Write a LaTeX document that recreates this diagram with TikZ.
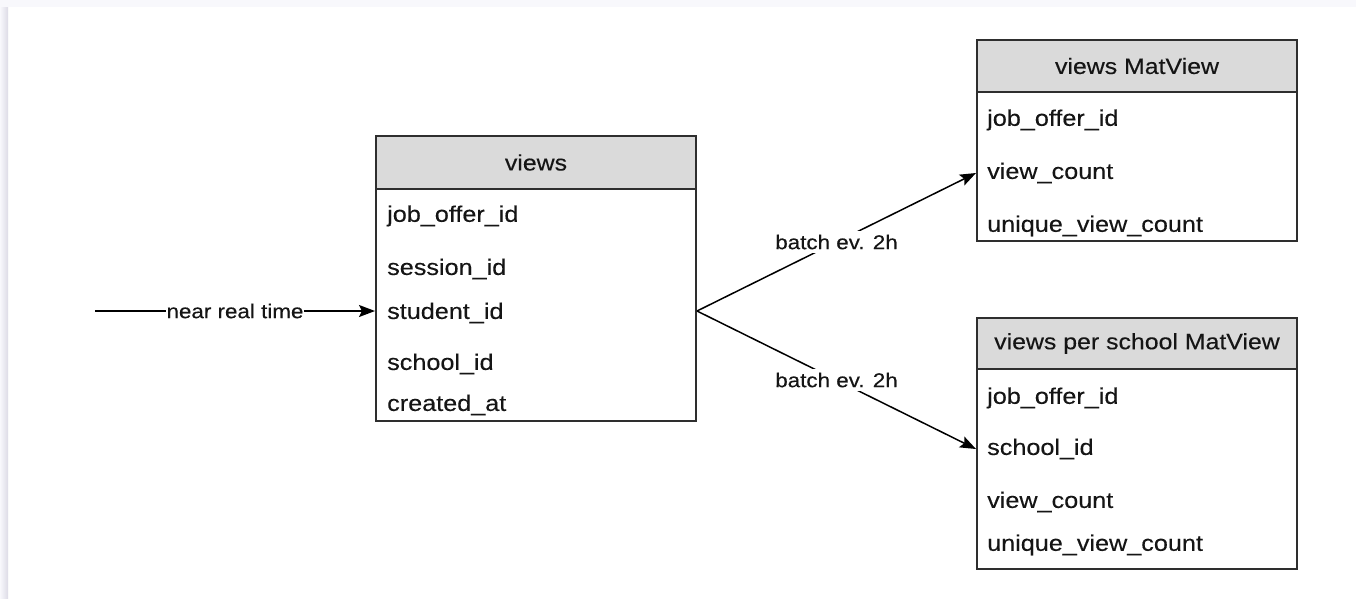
\documentclass[tikz,border=0pt]{standalone}
\usepackage{fontspec}
\setmainfont[FakeStretch=1.12,FakeBold=0.25]{Liberation Sans}
\usetikzlibrary{arrows.meta}
\definecolor{edge}{HTML}{2E2E2E}
\definecolor{headfill}{HTML}{DADADA}
\definecolor{ink}{HTML}{151515}
\definecolor{pagerim}{HTML}{F8F8FC}
\definecolor{rimshade}{HTML}{DDDBE6}

\begin{document}
\begin{tikzpicture}[x=1pt,y=-1pt,
  tablebox/.style={draw=edge, line width=2pt, fill=white, inner sep=0pt, anchor=north west},
  headbox/.style={draw=edge, line width=2pt, fill=headfill, inner sep=0pt, anchor=north west,
    text=ink, font=\fontsize{22.2}{26}\selectfont},
  field/.style={anchor=west, inner sep=0pt, text=ink, font=\fontsize{22.5}{26}\selectfont},
  flow/.style={draw=black, line width=1.5pt, -{Stealth[length=16pt,width=12pt,inset=3pt]}},
  lbl/.style={fill=white, inner xsep=1pt, inner ysep=4pt, text=ink, font=\fontsize{20}{24}\selectfont}]

% page and its rim
\fill[white] (0,0) rectangle (1356,598);
\fill[pagerim] (0,0) rectangle (1356,7);
\shade[left color=pagerim, right color=rimshade] (0,7) rectangle (8,598);

% table: views
\node[tablebox, minimum width=320pt, minimum height=285pt] (views) at (375,135) {};
\node[headbox, minimum width=320pt, minimum height=53pt] (viewshead) at (375,135) {views};
\node[field] (vjob) at (387,216) {job\_offer\_id};
\node[field] (vsess) at (387,269) {session\_id};
\node[field] (vstud) at (387,313) {student\_id};
\node[field] (vschool) at (387,364) {school\_id};
\node[field] (vcreated) at (387,405) {created\_at};

% table: views MatView
\node[tablebox, minimum width=320pt, minimum height=201pt] (mat) at (976,39) {};
\node[headbox, minimum width=320pt, minimum height=52pt] (mathead) at (976,39) {views MatView};
\node[field] (mjob) at (987,120) {job\_offer\_id};
\node[field] (mcount) at (987,173) {view\_count};
\node[field] (muniq) at (987,226) {unique\_view\_count};

% table: views per school MatView
\node[tablebox, minimum width=320pt, minimum height=251pt] (ps) at (976,317) {};
\node[headbox, minimum width=320pt, minimum height=51pt] (pshead) at (976,317) {views per school MatView};
\node[field] (pjob) at (987,398) {job\_offer\_id};
\node[field] (pschool) at (987,449) {school\_id};
\node[field] (pcount) at (987,502) {view\_count};
\node[field] (puniq) at (987,545) {unique\_view\_count};

% connectors: one feed into views, two batch jobs out of it
\coordinate (src) at (95,311);
\coordinate (vin) at (views.west |- src);
\coordinate (vout) at (views.east |- src);
\draw[flow] (src) -- node[lbl, inner ysep=1pt] {near real time} (vin);
\draw[flow] (vout) -- node[lbl] {batch ev. 2h} (mat.west |- mcount);
\draw[flow] (vout) -- node[lbl] {batch ev. 2h} (ps.west |- pschool);
\end{tikzpicture}
\end{document}
